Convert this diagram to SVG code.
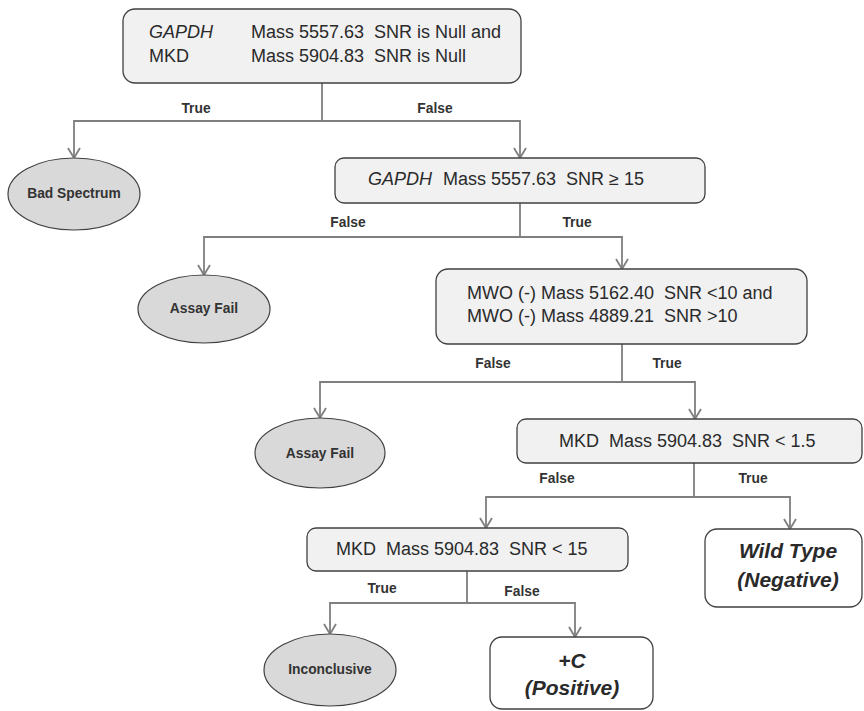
<svg xmlns="http://www.w3.org/2000/svg" width="864" height="711" viewBox="0 0 864 711">
<defs>
<marker id="arr" markerUnits="userSpaceOnUse" markerWidth="20" markerHeight="20" refX="0" refY="0" viewBox="-12 -10 14 20" orient="auto" overflow="visible">
<path d="M-10,-6 L0,0 L-10,6" fill="none" stroke="#7f7f7f" stroke-width="1.8"/>
</marker>
</defs>
<style>
.box{fill:#f1f1f2;stroke:#404040;stroke-width:1.3}
.wbox{fill:#ffffff;stroke:#404040;stroke-width:1.3}
.ell{fill:#d9d9d9;stroke:#404040;stroke-width:1.2}
.t{font-family:"Liberation Sans",Arial,sans-serif;font-size:18px;fill:#2a2a2a}
.it{font-style:italic}
.lab{font-family:"Liberation Sans",Arial,sans-serif;font-size:13.8px;font-weight:bold;fill:#333}
.big{font-family:"Liberation Sans",Arial,sans-serif;font-size:21px;font-weight:bold;font-style:italic;fill:#2a2a2a}
.c{fill:none;stroke:#7f7f7f;stroke-width:1.8}
</style>

<g id="connectors">
<path class="c" d="M322,83 V121 H74 V158" marker-end="url(#arr)"/>
<path class="c" d="M322,121 H520 V158" marker-end="url(#arr)"/>
<path class="c" d="M520,203 V237 H204 V275" marker-end="url(#arr)"/>
<path class="c" d="M520,237 H622 V269" marker-end="url(#arr)"/>
<path class="c" d="M622,344 V382 H320 V418" marker-end="url(#arr)"/>
<path class="c" d="M622,382 H695 V419" marker-end="url(#arr)"/>
<path class="c" d="M694,463 V497 H486 V528" marker-end="url(#arr)"/>
<path class="c" d="M694,497 H790 V529" marker-end="url(#arr)"/>
<path class="c" d="M467,571 V603 H330 V634" marker-end="url(#arr)"/>
<path class="c" d="M467,603 H575 V637" marker-end="url(#arr)"/>
<text class="lab" x="196" y="113" text-anchor="middle">True</text>
<text class="lab" x="435" y="113" text-anchor="middle">False</text>
<text class="lab" x="348" y="227" text-anchor="middle">False</text>
<text class="lab" x="577" y="227" text-anchor="middle">True</text>
<text class="lab" x="493" y="368" text-anchor="middle">False</text>
<text class="lab" x="667" y="368" text-anchor="middle">True</text>
<text class="lab" x="557" y="483" text-anchor="middle">False</text>
<text class="lab" x="753" y="483" text-anchor="middle">True</text>
<text class="lab" x="382" y="593" text-anchor="middle">True</text>
<text class="lab" x="522" y="596" text-anchor="middle">False</text>
</g>

<g id="n1">
<rect class="box" x="123" y="9" width="398" height="74" rx="12"/>
<text class="t it" x="149" y="38">GAPDH</text>
<text class="t" x="251" y="38" xml:space="preserve">Mass 5557.63  SNR is Null and</text>
<text class="t" x="149" y="62">MKD</text>
<text class="t" x="251" y="62" xml:space="preserve">Mass 5904.83  SNR is Null</text>
</g>

<g id="n_bad">
<ellipse class="ell" cx="74" cy="194" rx="66" ry="36"/>
<text class="lab" x="74" y="198" text-anchor="middle">Bad Spectrum</text>
</g>

<g id="n2">
<rect class="box" x="335" y="158" width="370" height="45" rx="9"/>
<text class="t it" x="368" y="185">GAPDH</text>
<text class="t" x="443" y="185" xml:space="preserve">Mass 5557.63  SNR ≥ 15</text>
</g>

<g id="n_fail1">
<ellipse class="ell" cx="204" cy="309" rx="66" ry="34"/>
<text class="lab" x="204" y="313" text-anchor="middle">Assay Fail</text>
</g>

<g id="n3">
<rect class="box" x="436" y="269" width="371" height="75" rx="12"/>
<text class="t" x="467" y="299" xml:space="preserve">MWO (-) Mass 5162.40  SNR &lt;10 and</text>
<text class="t" x="467" y="322" xml:space="preserve">MWO (-) Mass 4889.21  SNR &gt;10</text>
</g>

<g id="n_fail2">
<ellipse class="ell" cx="320" cy="453" rx="65" ry="35"/>
<text class="lab" x="320" y="458" text-anchor="middle">Assay Fail</text>
</g>

<g id="n4">
<rect class="box" x="517" y="419" width="345" height="44" rx="9"/>
<text class="t" x="559" y="447" xml:space="preserve">MKD  Mass 5904.83  SNR &lt; 1.5</text>
</g>

<g id="n5">
<rect class="box" x="307" y="528" width="321" height="43" rx="9"/>
<text class="t" x="336" y="555" xml:space="preserve">MKD  Mass 5904.83  SNR &lt; 15</text>
</g>

<g id="n_wild">
<rect class="wbox" x="705" y="529" width="157" height="78" rx="12"/>
<text class="big" x="788" y="558" text-anchor="middle">Wild Type</text>
<text class="big" x="788" y="587" text-anchor="middle">(Negative)</text>
</g>

<g id="n_incon">
<ellipse class="ell" cx="330" cy="670" rx="66" ry="36"/>
<text class="lab" x="330" y="674" text-anchor="middle">Inconclusive</text>
</g>

<g id="n_pos">
<rect class="wbox" x="490" y="637" width="163" height="72" rx="12"/>
<text class="big" x="572" y="668" text-anchor="middle">+C</text>
<text class="big" x="572" y="695" text-anchor="middle">(Positive)</text>
</g>
</svg>
